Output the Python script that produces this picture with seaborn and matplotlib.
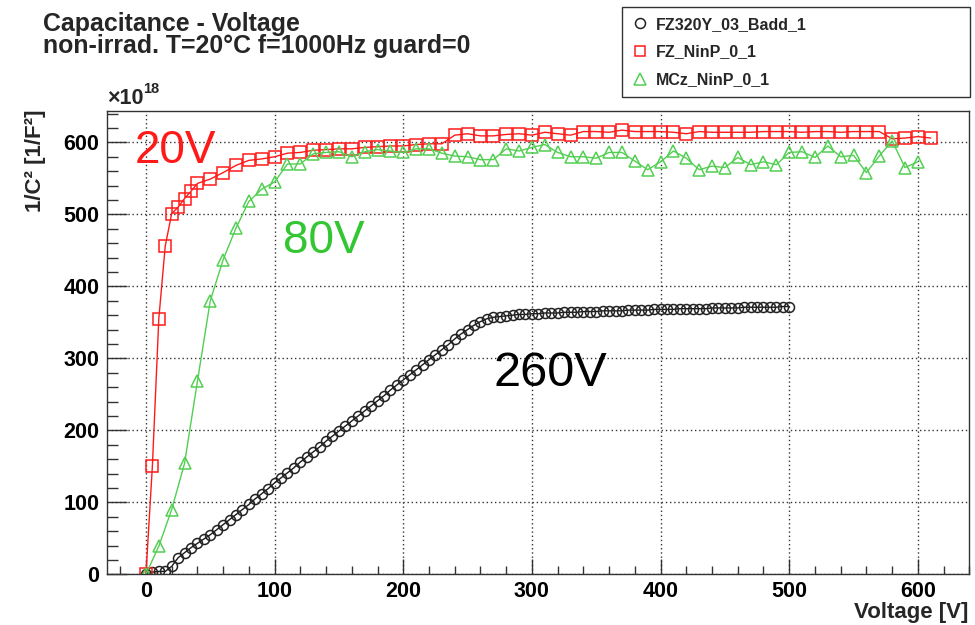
import matplotlib
matplotlib.use("Agg")
import matplotlib.pyplot as plt
from matplotlib.lines import Line2D
from matplotlib.ticker import MultipleLocator
import seaborn as sns

# ---- measurement data (1/C^2 in units of 1e18 F^-2) ----
fz320_v = [0, 5, 10, 15, 20, 25, 30, 35, 40, 45, 50, 55, 60, 65, 70, 75, 80, 85, 90, 95,
           100, 105, 110, 115, 120, 125, 130, 135, 140, 145, 150, 155, 160, 165, 170, 175,
           180, 185, 190, 195, 200, 205, 210, 215, 220, 225, 230, 235, 240, 245, 250, 255,
           260, 265, 270, 275, 280, 285, 290, 295, 300, 305, 310, 315, 320, 325, 330, 335,
           340, 345, 350, 355, 360, 365, 370, 375, 380, 385, 390, 395, 400, 405, 410, 415,
           420, 425, 430, 435, 440, 445, 450, 455, 460, 465, 470, 475, 480, 485, 490, 495, 500]
fz320_c = [0, 3, 4, 4, 11, 23, 30, 37, 43, 49, 55, 62, 69, 76, 83, 90, 97, 105, 112, 119,
           127, 134, 141, 148, 156, 163, 170, 177, 185, 192, 199, 206, 213, 220, 227, 234,
           241, 248, 256, 263, 270, 277, 284, 291, 298, 305, 312, 319, 327, 334, 340, 346,
           351, 355, 357, 358, 359, 360, 361, 361, 362, 362, 363, 363, 363, 364, 364, 364,
           365, 365, 365, 366, 366, 366, 366, 367, 367, 367, 367, 368, 368, 368, 368, 369,
           369, 369, 369, 369, 370, 370, 370, 370, 370, 371, 371, 371, 371, 371, 371, 372, 372]

fz_ninp_v = [0, 5, 10, 15, 20, 25, 30, 35, 40, 50, 60, 70, 80, 90, 100, 110, 120, 130, 140,
             150, 160, 170, 180, 190, 200, 210, 220, 230, 240, 250, 260, 270, 280, 290, 300,
             310, 320, 330, 340, 350, 360, 370, 380, 390, 400, 410, 420, 430, 440, 450, 460,
             470, 480, 490, 500, 510, 520, 530, 540, 550, 560, 570, 580, 590, 600, 610]
fz_ninp_c = [0, 150, 355, 456, 501, 510, 522, 532, 543, 549, 558, 568, 575, 577, 580, 585,
             586, 589, 590, 591, 591, 593, 594, 595, 595, 597, 598, 598, 610, 612, 609, 609,
             611, 612, 610, 614, 612, 610, 615, 615, 614, 617, 615, 615, 615, 614, 612, 615,
             614, 614, 614, 614, 615, 615, 615, 614, 615, 615, 614, 615, 615, 615, 605, 606,
             608, 606]

mcz_ninp_v = [0, 10, 20, 30, 40, 50, 60, 70, 80, 90, 100, 110, 120, 130, 140, 150, 160, 170,
              180, 190, 200, 210, 220, 230, 240, 250, 260, 270, 280, 290, 300, 310, 320, 330,
              340, 350, 360, 370, 380, 390, 400, 410, 420, 430, 440, 450, 460, 470, 480, 490,
              500, 510, 520, 530, 540, 550, 560, 570, 580, 590, 600]
mcz_ninp_c = [0, 39, 90, 154, 268, 380, 437, 481, 518, 535, 545, 570, 570, 584, 586, 587,
              580, 587, 590, 588, 586, 591, 591, 585, 581, 580, 576, 576, 591, 588, 593, 597,
              586, 580, 580, 578, 586, 586, 574, 562, 573, 588, 578, 562, 567, 565, 579, 569,
              573, 569, 586, 587, 579, 595, 580, 582, 558, 581, 602, 565, 573]

labels = ["FZ320Y_03_Badd_1", "FZ_NinP_0_1", "MCz_NinP_0_1"]
depletion_labels = ["20V", "80V", "260V"]
title_lines = ["Capacitance - Voltage", "non-irrad. T=20°C f=1000Hz guard=0"]

RED = "#ff1a1a"
GREEN = "#52cf52"
GREEN_TXT = "#33c633"
BLACK = "#1a1a1a"

sns.set_style("ticks")
plt.rcParams["font.family"] = ["Liberation Sans", "DejaVu Sans"]

fig = plt.figure(figsize=(9.75, 6.25), dpi=100)
ax = fig.add_axes([0.1101, 0.0811, 0.8841, 0.7418])

common = dict(ax=ax, estimator=None, sort=False, legend=False, linewidth=1.0,
              markerfacecolor="none", markeredgewidth=1.1)
sns.lineplot(x=fz320_v, y=fz320_c, color=BLACK, marker="o", markersize=7.2,
             markeredgecolor="#222222", **common)
sns.lineplot(x=fz_ninp_v, y=fz_ninp_c, color=RED, marker="s", markersize=8.2,
             markeredgecolor=RED, **common)
sns.lineplot(x=mcz_ninp_v, y=mcz_ninp_c, color=GREEN, marker="^", markersize=8.5,
             markeredgecolor=GREEN, **common)

ax.set_xlim(-30, 640)
ax.set_ylim(0, 644)
ax.xaxis.set_major_locator(MultipleLocator(100))
ax.xaxis.set_minor_locator(MultipleLocator(20))
ax.yaxis.set_major_locator(MultipleLocator(100))
ax.yaxis.set_minor_locator(MultipleLocator(20))

ax.grid(which="major", color="#333333", linestyle=(0, (1, 2)), linewidth=1.0)
ax.set_axisbelow(True)

for side in ["left", "right", "top", "bottom"]:
    ax.spines[side].set_visible(True)
    ax.spines[side].set_color("#333333")
    ax.spines[side].set_linewidth(1.0)

ax.tick_params(axis="both", which="both", direction="in", color="#333333",
               labelcolor="black", labelsize=15.5, pad=5.8, width=1.0,
               top=False, right=False)
ax.tick_params(axis="x", which="both", pad=5.0)
ax.tick_params(axis="y", which="major", length=14.4)
ax.tick_params(axis="y", which="minor", length=8.0)
ax.tick_params(axis="x", which="major", length=10.8)
ax.tick_params(axis="x", which="minor", length=5.8)
for lab in ax.get_xticklabels() + ax.get_yticklabels():
    lab.set_fontweight("bold")
ax.set_xlabel("")
ax.set_ylabel("")

# two-line title block (anchored at the baseline of its last line)
fig.text(43 / 975, 1 - 53 / 625, "\n".join(title_lines), fontsize=17.9,
         fontweight="bold", va="baseline", ha="left", linespacing=0.9,
         multialignment="left")
fig.text(35 / 975, 1 - 109 / 625, "1/C² [1/F²]", rotation=90, fontsize=16,
         fontweight="bold", ha="center", va="top")
fig.text(968 / 975, 1 - 618 / 625, "Voltage [V]", fontsize=16,
         fontweight="bold", ha="right", va="baseline")
fig.text(107 / 975, 1 - 104 / 625, "×10", fontsize=15.5, fontweight="bold",
         ha="left", va="baseline")
fig.text(143 / 975, 1 - 112 / 625 + 0.03, "18", fontsize=10.5, fontweight="bold",
         ha="left", va="baseline")

# full depletion voltage annotations
ax.text(-9, 571, depletion_labels[0], color=RED, fontsize=33, ha="left", va="baseline")
ax.text(106.5, 446, depletion_labels[1], color=GREEN_TXT, fontsize=33, ha="left", va="baseline")
ax.text(270, 261.5, depletion_labels[2], color="black", fontsize=35, ha="left", va="baseline")

# legend (markers only)
handles = [
    Line2D([], [], linestyle="none", marker="o", markersize=7.2, markerfacecolor="none",
           markeredgecolor="#222222", markeredgewidth=1.1),
    Line2D([], [], linestyle="none", marker="s", markersize=7.5, markerfacecolor="none",
           markeredgecolor=RED, markeredgewidth=1.1),
    Line2D([], [], linestyle="none", marker="^", markersize=8.0, markerfacecolor="none",
           markeredgecolor=GREEN, markeredgewidth=1.1),
]
leg = fig.legend(handles, labels, loc="upper left",
                 bbox_to_anchor=(622 / 975, 1 - 7 / 625, 348 / 975, 0),
                 bbox_transform=fig.transFigure, mode="expand",
                 prop={"size": 11.5, "weight": "bold"}, frameon=True, fancybox=False,
                 framealpha=1.0, edgecolor="#333333", borderpad=0.6, labelspacing=0.8,
                 handlelength=1.0, handletextpad=0.5, borderaxespad=0)
leg.get_frame().set_linewidth(1.0)

fig.savefig("out.png", dpi=100)
